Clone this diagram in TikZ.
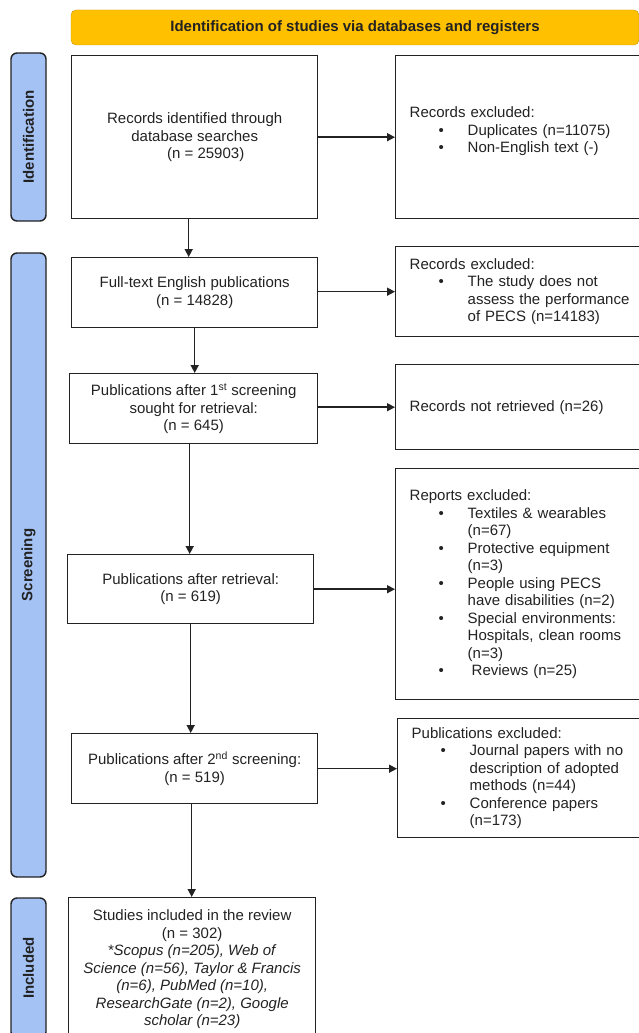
\documentclass[tikz,border=0pt]{standalone}
\usepackage{fontspec}
\setmainfont{Liberation Sans}
\usepackage{xcolor}
\usepackage{tikz}
\usetikzlibrary{
    arrows.meta,
    positioning,
    calc
}

\definecolor{bannergold}{HTML}{FFC000}
\definecolor{bannerrim}{HTML}{C99A06}
\definecolor{phaseblue}{HTML}{A4C2F4}
\definecolor{inkgray}{HTML}{222222}

\newcommand{\exbullet}{\hspace*{29pt}\makebox[29pt][l]{\textbullet}}
\newcommand{\exindent}{\hspace*{58pt}}

\begin{document}
\begin{tikzpicture}[
        x=1pt, y=-1pt,
        font=\fontsize{15}{17.5}\selectfont,
        text=inkgray,
        banner/.style={
            rectangle,
            rounded corners=5pt,
            draw=bannerrim,
            fill=bannergold,
            font=\fontsize{15}{17.5}\selectfont\bfseries,
            minimum width=568pt,
            minimum height=35pt
        },
        phase/.style={
            rectangle,
            rounded corners=6pt,
            draw=inkgray,
            line width=1.4pt,
            fill=phaseblue,
            rotate=90,
            font=\fontsize{15}{17.5}\selectfont\bfseries,
            minimum height=35pt
        },
        stagebox/.style={
            rectangle,
            draw=inkgray,
            line width=1.4pt,
            align=center,
            anchor=north west,
            minimum width=246pt
        },
        exclbox/.style={
            rectangle,
            draw=inkgray,
            line width=1.4pt,
            align=left,
            anchor=north west,
            inner xsep=14pt,
            text width=240pt
        },
        line/.style={
            -{Triangle[length=8pt,width=8pt]},
            line width=1.5pt,
            draw=inkgray
        }
    ]

    \useasboundingbox (0,0) rectangle (638,1033);

    \node[banner] (banner) at (355,27.5)
        {Identification of studies via databases and registers};

    % phases on the left
    \node[phase, minimum width=168pt] (identification) at (28.5,137) {Identification};
    \node[phase, minimum width=624pt] (screening) at (28.5,565) {Screening};
    \node[phase, minimum width=140pt] (included) at (28.5,968) {Included};

    % main flow
    \node[stagebox, minimum height=163pt] (records) at (71,55)
        {Records identified through\\database searches\\\hspace*{22pt}(n = 25903)};

    \node[stagebox, minimum height=70pt] (fulltext) at (71,257)
        {Full-text English publications\\(n = 14828)};

    \node[stagebox, minimum width=248pt, minimum height=70pt] (sought) at (69,373)
        {Publications after 1\textsuperscript{st} screening\\sought for retrieval:\\(n = 645)};

    \node[stagebox, minimum height=69pt] (retrieved) at (67,554)
        {Publications after retrieval:\\(n = 619)};

    \node[stagebox, minimum height=70pt] (second) at (71,733)
        {Publications after 2\textsuperscript{nd} screening:\\(n = 519)};

    \node[stagebox, minimum width=247pt, minimum height=143pt] (studies) at (68,897)
        {Studies included in the review\\(n = 302)\\
         \textit{*Scopus (n=205), Web of}\\
         \textit{Science (n=56), Taylor \& Francis}\\
         \textit{(n=6), PubMed (n=10),}\\
         \textit{ResearchGate (n=2), Google}\\
         \textit{scholar (n=23)}};

    % exclusions
    \node[exclbox, minimum height=163pt] (dupes) at (395,55)
        {Records excluded:\\
         \exbullet Duplicates (n=11075)\\
         \exbullet Non-English text (-)\\[-3pt]\mbox{}};

    \node[exclbox, minimum height=90pt] (offtopic) at (395,246)
        {Records excluded:\\
         \exbullet The study does not\\
         \exindent assess the performance\\
         \exindent of PECS (n=14183)};

    \node[exclbox, minimum height=85pt] (missing) at (395,364)
        {Records not retrieved (n=26)};

    \node[exclbox, minimum height=231pt] (reports) at (395,468)
        {Reports excluded:\\
         \exbullet Textiles \& wearables\\
         \exindent (n=67)\\
         \exbullet Protective equipment\\
         \exindent (n=3)\\
         \exbullet People using PECS\\
         \exindent have disabilities (n=2)\\
         \exbullet Special environments:\\
         \exindent Hospitals, clean rooms\\
         \exindent (n=3)\\
         \exbullet\hspace*{4pt}Reviews (n=25)};

    \node[exclbox, minimum height=119pt] (pubexcl) at (397,718)
        {Publications excluded:\\
         \exbullet Journal papers with no\\
         \exindent description of adopted\\
         \exindent methods (n=44)\\
         \exbullet Conference papers\\
         \exindent (n=173)};

    \draw[line] ([xshift=-6pt]records.south) -- ([xshift=-6pt]records.south |- fulltext.north);
    \draw[line] (fulltext.south) -- (fulltext.south |- sought.north);
    \draw[line] ([xshift=-4pt]sought.south) -- ([xshift=-4pt]sought.south |- retrieved.north);
    \draw[line] (retrieved.south) -- (retrieved.south |- second.north);
    \draw[line] ([xshift=-3pt]second.south) -- ([xshift=-3pt]second.south |- studies.north);

    \draw[line] (records.east) -- (dupes.west);
    \draw[line] (fulltext.east |- offtopic.west) -- (offtopic.west);
    \draw[line] (sought.east |- missing.west) -- (missing.west);
    \draw[line] (retrieved.east) -- (retrieved.east -| reports.west);
    \draw[line] (second.east) -- (second.east -| pubexcl.west);

\end{tikzpicture}
\end{document}
